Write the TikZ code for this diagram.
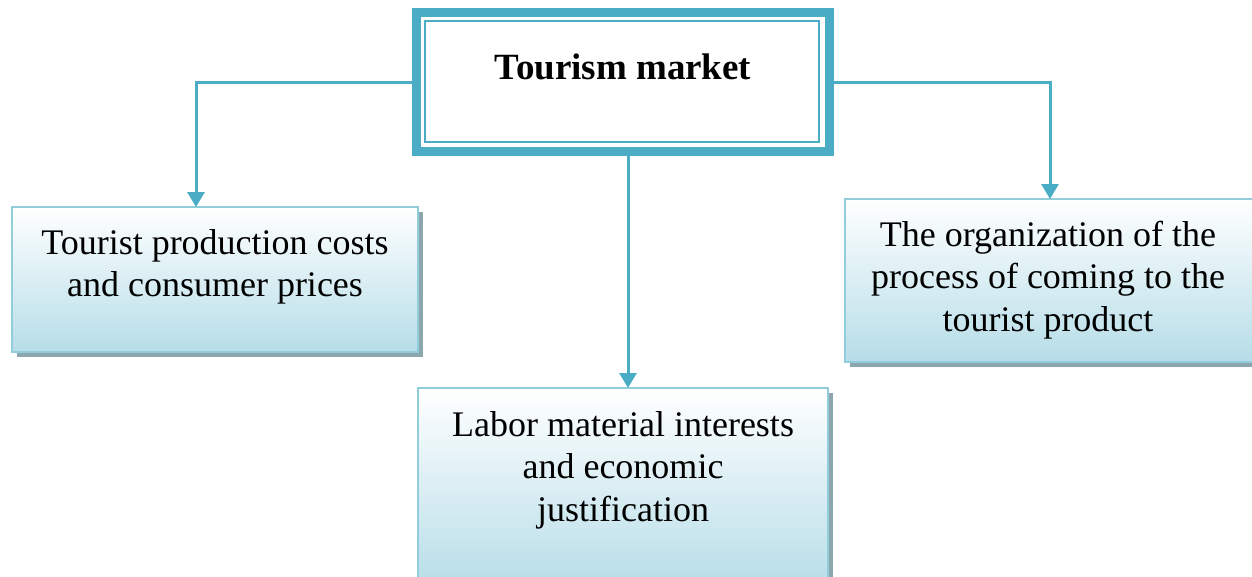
\documentclass[tikz,border=0pt]{standalone}
\usepackage{fontspec}
\setmainfont{Liberation Serif}
\usetikzlibrary{arrows.meta}
\definecolor{accent}{HTML}{4BACC6}
\definecolor{boxline}{HTML}{92CDDC}
\definecolor{boxfill}{HTML}{B6DDE8}
\definecolor{shadowc}{HTML}{8CA6AE}
\tikzset{
  conn/.style={accent, line width=3pt, -{Triangle[width=17pt,length=15pt]}},
  boxtext/.style={align=center, font=\fontsize{36}{42.5}\selectfont, inner sep=0pt},
}
\newcommand{\shadowbox}[4]{%
  \fill[shadowc] (#1+5,#2+5) rectangle (#3+5,#4+5);
  \shade[top color=white, bottom color=boxfill, draw=boxline, line width=2pt] (#1,#2) rectangle (#3,#4);
}
\begin{document}
\begin{tikzpicture}[x=1pt,y=-1pt]
\useasboundingbox (0,0) rectangle (1252,576);
% top box
\draw[accent, line width=9pt, fill=white] (416.5,12) rectangle (829,151);
\draw[accent, line width=2.5pt] (425,21) rectangle (819,142);
\node[font=\fontsize{37}{44}\selectfont\bfseries, inner sep=0pt] (top) at (623,67) {Tourism market};
\coordinate (topL) at (412,82);
\coordinate (topR) at (834,82);
\coordinate (topB) at (628,155);
% boxes
\shadowbox{12}{207}{418}{352}
\shadowbox{845}{199}{1262}{362}
\shadowbox{418}{388}{828}{590}
\node[boxtext] (b1) at (215,267) {Tourist production costs\\and consumer prices};
\node[boxtext] (b3) at (1048,280) {The organization of the\\process of coming to the\\tourist product};
\node[boxtext] (b2) at (623,470) {Labor material interests\\and economic\\justification};
\coordinate (b1top) at (196,207);
\coordinate (b3top) at (1050,199);
\coordinate (b2top) at (628,388);
% connectors
\draw[conn] (topL) -| (b1top);
\draw[conn] (topR) -| (b3top);
\draw[conn] (topB) -- (b2top);
\end{tikzpicture}
\end{document}
